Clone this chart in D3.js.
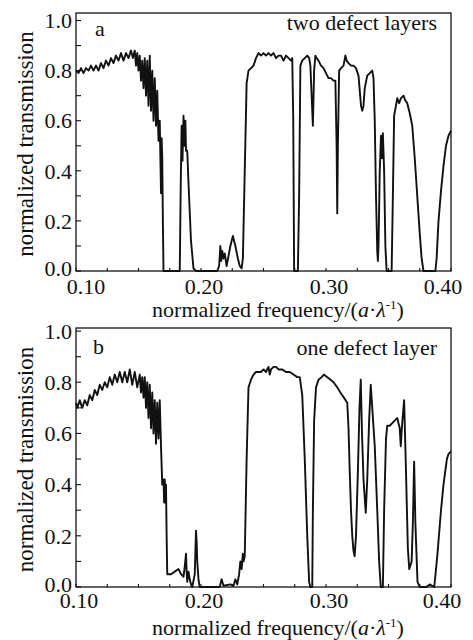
<!DOCTYPE html>
<html>
<head>
<meta charset="utf-8">
<script src="https://cdn.jsdelivr.net/npm/d3@7"></script>
<style>
  body { margin: 0; background: #fff; }
</style>
</head>
<body>
<script>
// spectrum, two defect layers: [normalized frequency, transmission]
var twoDefect = [
  [0.100,0.80],[0.102,0.79],[0.104,0.81],[0.106,0.79],[0.108,0.81],[0.110,0.80],
  [0.112,0.82],[0.114,0.80],[0.116,0.82],[0.118,0.80],[0.120,0.83],[0.122,0.81],
  [0.124,0.84],[0.126,0.82],[0.128,0.85],[0.130,0.83],[0.132,0.86],[0.134,0.84],
  [0.136,0.87],[0.138,0.84],[0.140,0.87],[0.142,0.85],[0.144,0.88],[0.1455,0.85],
  [0.147,0.88],[0.148,0.82],[0.149,0.87],[0.150,0.80],[0.151,0.86],[0.152,0.76],
  [0.153,0.84],[0.154,0.73],[0.155,0.85],[0.156,0.70],[0.157,0.84],[0.158,0.66],
  [0.159,0.86],[0.160,0.64],[0.161,0.80],[0.162,0.60],[0.163,0.77],[0.164,0.58],
  [0.165,0.72],[0.166,0.52],[0.167,0.60],[0.168,0.31],[0.1685,0.53],[0.169,0.45],
  [0.1695,0.20],[0.170,0.0],[0.183,0.0],[0.1838,0.35],[0.1845,0.58],[0.1852,0.44],
  [0.186,0.62],[0.1868,0.50],[0.1875,0.60],[0.188,0.48],[0.189,0.48],[0.190,0.35],
  [0.192,0.12],[0.194,0.01],[0.196,0.0],[0.213,0.0],[0.2145,0.02],[0.2155,0.10],
  [0.2162,0.04],[0.217,0.08],[0.218,0.05],[0.219,0.07],[0.2205,0.02],[0.2235,0.10],
  [0.2255,0.14],[0.2275,0.10],[0.2295,0.05],[0.231,0.02],[0.2325,0.01],[0.2335,0.05],
  [0.235,0.40],[0.2365,0.75],[0.238,0.80],[0.240,0.81],[0.242,0.82],[0.244,0.85],
  [0.246,0.87],[0.248,0.86],[0.250,0.87],[0.252,0.86],[0.254,0.87],[0.256,0.86],
  [0.258,0.87],[0.260,0.85],[0.262,0.86],[0.264,0.86],[0.266,0.84],[0.268,0.86],
  [0.270,0.85],[0.272,0.84],[0.273,0.85],[0.2738,0.60],[0.2745,0.0],[0.2775,0.0],
  [0.2785,0.30],[0.2795,0.82],[0.281,0.84],[0.283,0.85],[0.285,0.86],[0.2865,0.85],
  [0.2875,0.82],[0.2885,0.70],[0.2895,0.58],[0.2905,0.80],[0.2915,0.86],[0.2925,0.85],
  [0.294,0.84],[0.296,0.82],[0.298,0.81],[0.300,0.79],[0.302,0.77],[0.304,0.77],
  [0.306,0.76],[0.3075,0.76],[0.3085,0.50],[0.309,0.23],[0.3095,0.50],[0.3105,0.80],
  [0.312,0.81],[0.314,0.82],[0.3155,0.86],[0.3165,0.84],[0.318,0.83],[0.320,0.82],
  [0.322,0.82],[0.324,0.81],[0.326,0.78],[0.327,0.72],[0.328,0.66],[0.329,0.64],
  [0.330,0.66],[0.331,0.73],[0.333,0.78],[0.335,0.79],[0.337,0.80],[0.338,0.77],
  [0.339,0.60],[0.340,0.30],[0.341,0.08],[0.3415,0.04],[0.342,0.10],[0.343,0.40],
  [0.344,0.54],[0.3448,0.45],[0.3455,0.55],[0.3465,0.40],[0.3475,0.10],[0.3485,0.0],
  [0.3525,0.0],[0.3535,0.30],[0.3545,0.62],[0.356,0.66],[0.357,0.69],[0.3585,0.67],
  [0.360,0.69],[0.362,0.70],[0.3635,0.68],[0.365,0.67],[0.367,0.63],[0.369,0.58],
  [0.371,0.45],[0.373,0.30],[0.375,0.15],[0.3765,0.05],[0.378,0.0],[0.3875,0.0],
  [0.3885,0.05],[0.390,0.20],[0.392,0.32],[0.394,0.42],[0.396,0.50],[0.398,0.54],
  [0.400,0.56]
];

// spectrum, one defect layer
var oneDefect = [
  [0.100,0.72],[0.101,0.70],[0.103,0.73],[0.105,0.70],[0.107,0.73],[0.109,0.71],
  [0.111,0.75],[0.113,0.73],[0.115,0.77],[0.117,0.75],[0.119,0.79],[0.121,0.77],
  [0.123,0.80],[0.125,0.78],[0.127,0.82],[0.129,0.79],[0.131,0.83],[0.133,0.80],
  [0.135,0.84],[0.137,0.80],[0.139,0.84],[0.141,0.80],[0.143,0.85],[0.145,0.79],
  [0.147,0.84],[0.149,0.78],[0.151,0.83],[0.152,0.76],[0.153,0.82],[0.154,0.74],
  [0.155,0.82],[0.156,0.70],[0.157,0.80],[0.158,0.66],[0.159,0.79],[0.160,0.62],
  [0.161,0.76],[0.162,0.60],[0.163,0.73],[0.164,0.56],[0.165,0.72],[0.166,0.58],
  [0.167,0.73],[0.168,0.55],[0.169,0.40],[0.170,0.42],[0.1705,0.33],[0.171,0.42],
  [0.1715,0.33],[0.172,0.40],[0.1725,0.20],[0.173,0.05],[0.176,0.05],[0.179,0.06],
  [0.182,0.07],[0.184,0.05],[0.186,0.04],[0.187,0.08],[0.188,0.13],[0.1885,0.06],
  [0.189,0.02],[0.190,0.06],[0.191,0.03],[0.192,0.01],[0.193,0.0],[0.195,0.05],
  [0.196,0.22],[0.1965,0.18],[0.197,0.10],[0.198,0.03],[0.199,0.0],[0.215,0.0],
  [0.2165,0.03],[0.218,0.005],[0.2235,0.01],[0.226,0.005],[0.2275,0.03],[0.229,0.01],
  [0.2305,0.05],[0.2315,0.10],[0.2325,0.07],[0.2335,0.13],[0.234,0.10],[0.235,0.12],
  [0.2365,0.50],[0.238,0.78],[0.240,0.81],[0.242,0.83],[0.244,0.84],[0.246,0.84],
  [0.248,0.84],[0.250,0.85],[0.252,0.84],[0.254,0.86],[0.255,0.83],[0.256,0.85],
  [0.258,0.86],[0.260,0.86],[0.262,0.85],[0.265,0.85],[0.268,0.84],[0.271,0.84],
  [0.274,0.83],[0.277,0.82],[0.279,0.82],[0.281,0.75],[0.283,0.50],[0.285,0.20],
  [0.2865,0.02],[0.2875,0.0],[0.289,0.0],[0.2895,0.30],[0.2905,0.65],[0.292,0.78],
  [0.294,0.81],[0.2965,0.82],[0.2983,0.83],[0.301,0.82],[0.3037,0.81],[0.306,0.80],
  [0.309,0.78],[0.3115,0.76],[0.3143,0.74],[0.317,0.72],[0.318,0.62],[0.319,0.45],
  [0.320,0.30],[0.321,0.20],[0.322,0.14],[0.3229,0.12],[0.324,0.20],[0.3255,0.45],
  [0.3268,0.70],[0.3278,0.81],[0.3288,0.60],[0.330,0.42],[0.3318,0.29],[0.333,0.42],
  [0.3345,0.65],[0.3358,0.79],[0.337,0.70],[0.339,0.55],[0.341,0.30],[0.3425,0.10],
  [0.3438,0.0],[0.3455,0.0],[0.3465,0.30],[0.348,0.58],[0.349,0.63],[0.351,0.63],
  [0.353,0.64],[0.355,0.65],[0.357,0.66],[0.358,0.64],[0.359,0.62],[0.3598,0.55],
  [0.3608,0.63],[0.3625,0.73],[0.364,0.45],[0.3655,0.15],[0.3666,0.07],[0.3685,0.10],
  [0.3695,0.25],[0.3705,0.49],[0.3715,0.25],[0.3732,0.02],[0.375,0.0],[0.380,0.0],
  [0.383,0.01],[0.3866,0.0],[0.389,0.12],[0.392,0.30],[0.394,0.40],[0.3967,0.50],
  [0.398,0.52],[0.400,0.53]
];

var xLabelTicks = [0.10, 0.20, 0.30, 0.40];
var xMinorTicks = [0.125, 0.15, 0.175, 0.225, 0.25, 0.275, 0.325, 0.35, 0.375];
var yLabelTicks = [0.0, 0.2, 0.4, 0.6, 0.8, 1.0];
var yMinorTicks = [0.1, 0.3, 0.5, 0.7, 0.9];

var panels = [
  {data: twoDefect, letter: "a", note: "two defect layers",
   top: 13, bottom: 271, yMax: 1.03, noteY: 30, letterY: 36, letterX: 95,
   firstShift: 10, lastShift: -8, labelY: 294, titleY: 317},
  {data: oneDefect, letter: "b", note: "one defect layer",
   top: 328, bottom: 587, yMax: 1.012, noteY: 355, letterY: 354, letterX: 93,
   firstShift: 3, lastShift: -9, labelY: 608, titleY: 635}
];

var width = 473, height = 640, left = 76, right = 451;
var serif = "'Liberation Serif', 'Times New Roman', Times, 'DejaVu Serif', 'Noto Serif', serif";

var svg = d3.select("body").append("svg")
  .attr("width", width)
  .attr("height", height)
  .attr("font-family", serif);

var x = d3.scaleLinear().domain([0.10, 0.40]).range([left, right]);

panels.forEach(function(p){
  var y = d3.scaleLinear().domain([0, p.yMax]).range([p.bottom, p.top]);
  var g = svg.append("g");

  // the curve
  var line = d3.line()
    .x(function(d){ return x(d[0]); })
    .y(function(d){ return y(d[1]); });
  g.append("path")
    .datum(p.data)
    .attr("d", line)
    .attr("fill", "none")
    .attr("stroke", "#111")
    .attr("stroke-width", 1.9)
    .attr("stroke-linejoin", "round");

  // frame
  g.append("rect")
    .attr("x", left).attr("y", p.top)
    .attr("width", right - left).attr("height", p.bottom - p.top)
    .attr("fill", "none").attr("stroke", "#111").attr("stroke-width", 1.3);

  // inward ticks
  g.selectAll(".yt").data(yLabelTicks.concat(yMinorTicks)).enter().append("line")
    .attr("x1", left).attr("x2", left + 5)
    .attr("y1", function(d){ return y(d); }).attr("y2", function(d){ return y(d); })
    .attr("stroke", "#111").attr("stroke-width", 1.1);
  g.selectAll(".xt").data(xLabelTicks.concat(xMinorTicks)).enter().append("line")
    .attr("x1", function(d){ return x(d); }).attr("x2", function(d){ return x(d); })
    .attr("y1", p.bottom).attr("y2", p.bottom - 3)
    .attr("stroke", "#111").attr("stroke-width", 1.1);

  // tick labels
  g.selectAll(".yl").data(yLabelTicks).enter().append("text")
    .attr("x", left - 4)
    .attr("y", function(d){ return y(d) - (d == 0 ? 3 : 0); })
    .attr("dy", "0.35em")
    .attr("text-anchor", "end")
    .attr("fill", "#111")
    .style("font-size", "22px")
    .text(function(d){ return d3.format(".1f")(d); });

  g.selectAll(".xl").data(xLabelTicks).enter().append("text")
    .attr("x", function(d, i){
      var s = i == 0 ? p.firstShift : (i == xLabelTicks.length - 1 ? p.lastShift : 3);
      return x(d) + s;
    })
    .attr("y", p.labelY)
    .attr("text-anchor", "middle")
    .attr("fill", "#111")
    .style("font-size", "22px")
    .text(function(d){ return d3.format(".2f")(d); });

  // panel letter and note
  g.append("text").attr("x", p.letterX).attr("y", p.letterY)
    .attr("fill", "#111")
    .style("font-size", "22px").text(p.letter);
  g.append("text").attr("x", 437).attr("y", p.noteY)
    .attr("text-anchor", "end")
    .attr("fill", "#111")
    .style("font-size", "22px").text(p.note);

  // axis titles
  g.append("text")
    .attr("transform", "translate(33," + ((p.top + p.bottom) / 2 + 2) + ") rotate(-90)")
    .attr("text-anchor", "middle")
    .attr("fill", "#111")
    .style("font-size", "23px")
    .text("normalized transmission");

  var t = g.append("text")
    .attr("x", 278).attr("y", p.titleY)
    .attr("text-anchor", "middle")
    .attr("fill", "#111")
    .style("font-size", "22px");
  t.append("tspan").text("normalized frequency/(");
  t.append("tspan").style("font-style", "italic").text("a");
  t.append("tspan").text("\u00b7");
  t.append("tspan").style("font-style", "italic").text("\u03bb");
  t.append("tspan").attr("dy", -8).style("font-size", "13px").text("-1");
  t.append("tspan").attr("dy", 8).text(")");
});
</script>
</body>
</html>
